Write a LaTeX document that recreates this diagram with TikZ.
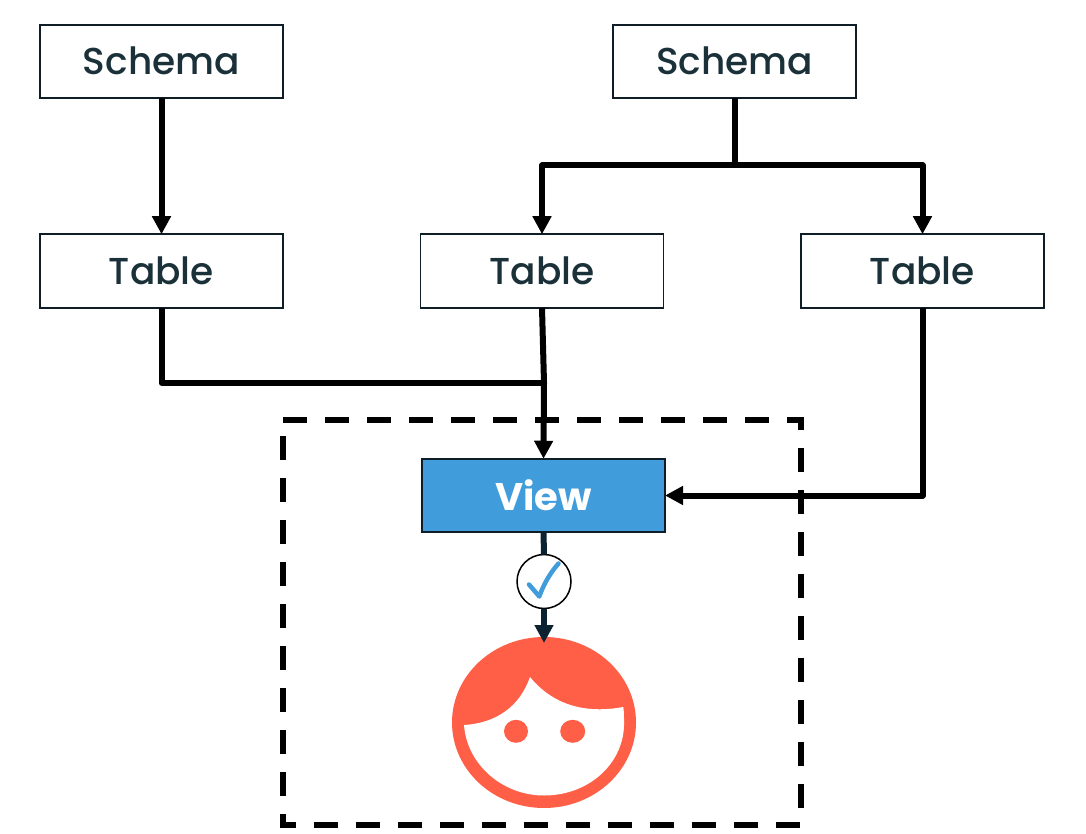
\documentclass[tikz,border=0pt]{standalone}
\usepackage{fontspec}
\setmainfont[BoldFont={Poppins Bold}]{Poppins Medium}
\usetikzlibrary{arrows.meta,shapes.geometric,calc}
\definecolor{inkdark}{HTML}{1B3139}
\definecolor{boxline}{HTML}{0F1E26}
\definecolor{viewblue}{HTML}{409CDB}
\definecolor{coral}{HTML}{FF5F46}
\definecolor{navyline}{HTML}{0B2230}
\tikzset{
  x=1pt,y=-1pt,
  box/.style={draw=boxline,line width=1.8pt,fill=white,minimum width=243pt,minimum height=73.5pt,inner sep=0pt,outer sep=0pt,font=\fontsize{37.5}{40}\selectfont,text=inkdark},
  viewbox/.style={box,fill=viewblue,text=white,font=\fontsize{38.5}{40}\selectfont\bfseries},
  conn/.style={draw=black,line width=6pt,line join=round},
  arrowed/.style={conn,-{Triangle[length=18pt,width=18pt]}},
  frame/.style={draw=black,line width=6pt,dash pattern=on 24pt off 18pt},
  checkcirc/.style={circle,draw=black,line width=1.5pt,fill=white,minimum size=54pt,inner sep=0pt,outer sep=0pt},
  facehead/.style={ellipse,fill=coral,minimum width=184pt,minimum height=171pt,inner sep=0pt,outer sep=0pt}
}
\begin{document}
\begin{tikzpicture}
\useasboundingbox[fill=white] (0,0) rectangle (1086,834);
\draw[frame] (283,420) -- (801,420) -- (801,825) -- (283,825) -- (283,420);
\node[box] (s1) at (161.5,61.5) {\raisebox{1pt}{Schema}};
\node[box] (s2) at (734.5,61.5) {\raisebox{1pt}{Schema}};
\node[box] (t1) at (161.5,271) {\raisebox{1pt}{Table}};
\node[box] (t2) at (542,271) {\raisebox{1pt}{Table}};
\node[box] (t3) at (922.5,271) {\raisebox{1pt}{Table}};
\node[viewbox] (v) at (543.5,495.5) {\raisebox{1pt}{View}};
\node[checkcirc] (c) at (544,581.5) {};
\node[facehead] (f) at (544,722.5) {};
\coordinate (split) at (734.5,165.5);
\coordinate (join) at (544,383);
% connectors
\draw[arrowed] (s1.south) -- (t1.north);
\draw[conn] (s2.south) -- (split);
\draw[arrowed] (split) -| (t2.north);
\draw[arrowed] (split) -| (t3.north);
\draw[conn] (t1.south) |- (join);
\draw[conn] (t2.south) -- (join);
\draw[arrowed] (join) -- (v.north);
\draw[arrowed] (t3.south) |- (v.east);
\draw[draw=navyline,line width=6pt] (v.south) -- (c.north);
% face
\fill[white] (464,725)
  .. controls (467,765) and (503,795.5) .. (544,795.5)
  .. controls (590,795.5) and (625,762) .. (624,722)
  .. controls (624,716) and (624,712) .. (623.3,707)
  .. controls (585,714) and (553,705) .. (530,677)
  .. controls (520,706) and (497,723) .. (464,725) -- cycle;
\fill[coral] (516,731.3) ellipse [x radius=12,y radius=11.5];
\fill[coral] (572.7,731.3) ellipse [x radius=12.5,y radius=11.5];
\draw[draw=navyline,line width=6pt,-{Triangle[length=18pt,width=18pt]}] (c.south) -- (544,643);
% tick
\draw[draw=viewblue,line width=4.5pt,line join=round,line cap=round] (529,584.5) -- (539.3,596.5) .. controls (544,583) and (551,572) .. (558.5,563.5);
\end{tikzpicture}
\end{document}
